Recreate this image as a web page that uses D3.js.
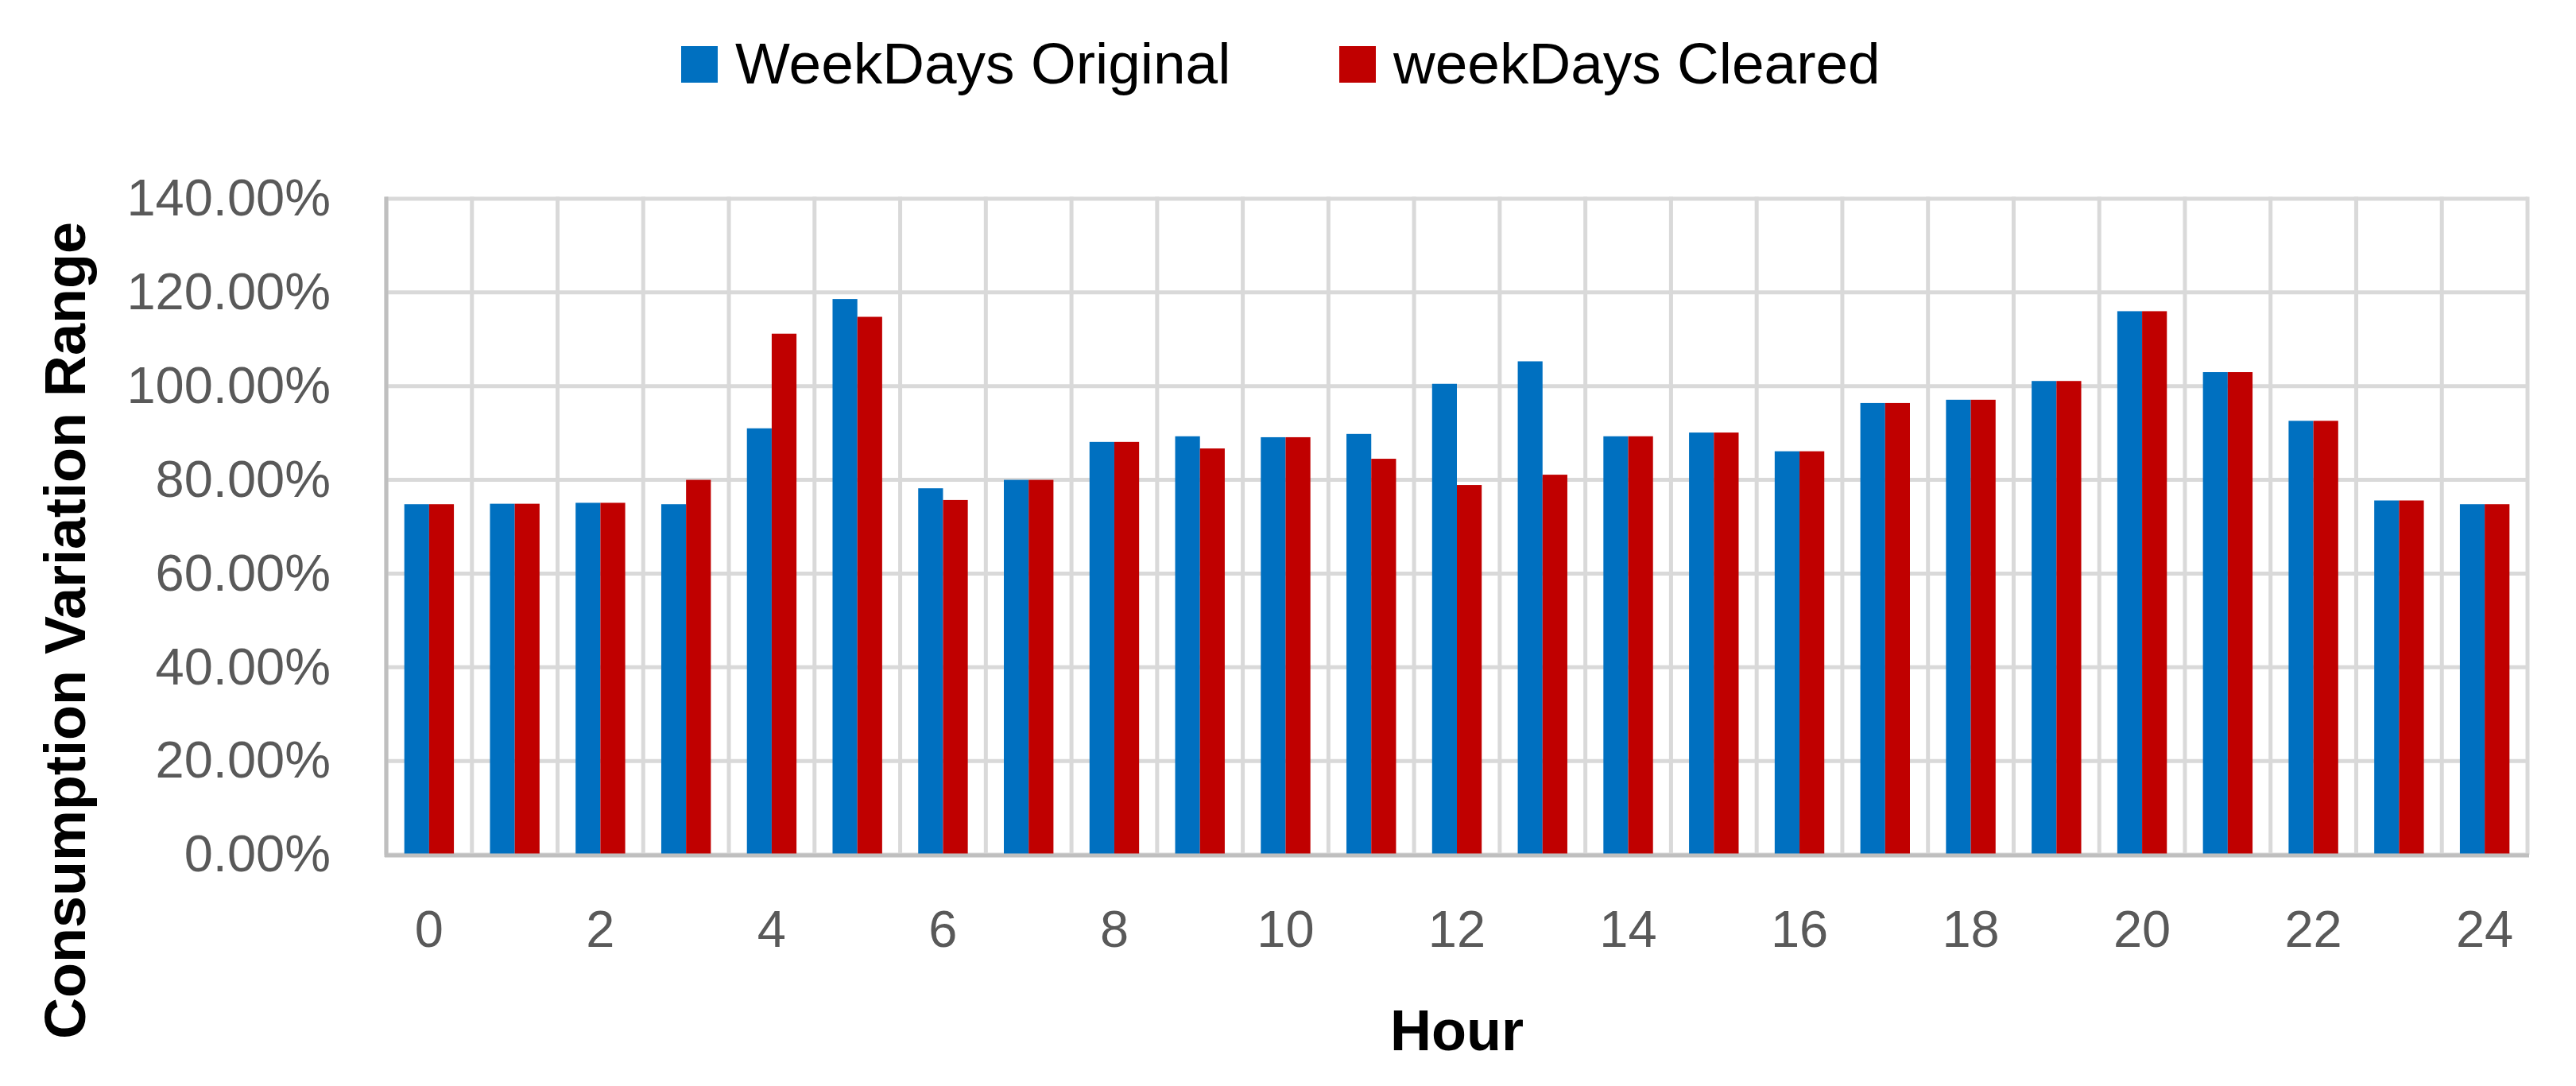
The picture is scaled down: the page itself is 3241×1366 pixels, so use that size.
<!DOCTYPE html>
<html>
<head>
<meta charset="utf-8">
<script src="https://cdn.jsdelivr.net/npm/d3@7"></script>
<style>
  body { margin: 0; background: #fff; }
  text { font-family: "Liberation Sans", Arial, sans-serif; }
</style>
</head>
<body>
<div id="chart"></div>
<script>
// chart values
var hours = [0, 1, 2, 3, 4, 5, 6, 7, 8, 9, 10, 11, 12, 13, 14, 15, 16, 17, 18, 19, 20, 21, 22, 23, 24];
var hourTicks = [0, 2, 4, 6, 8, 10, 12, 14, 16, 18, 20, 22, 24];
var seriesNames = ["WeekDays Original", "weekDays Cleared"];
var original = [74.8, 74.9, 75.1, 74.8, 91.0, 118.6, 78.2, 80.0, 88.1, 89.3, 89.1, 89.8, 100.5,
                105.3, 89.3, 90.1, 86.1, 96.4, 97.1, 101.1, 116.0, 103.0, 92.6, 75.6, 74.8];
var cleared = [74.8, 74.9, 75.1, 80.0, 111.2, 114.8, 75.7, 80.0, 88.1, 86.7, 89.1, 84.5, 78.9,
               81.1, 89.3, 90.1, 86.1, 96.4, 97.1, 101.1, 116.0, 103.0, 92.6, 75.6, 74.8];
var yTicks = [0, 20, 40, 60, 80, 100, 120, 140];

var W = 3241, H = 1366;
var plotLeft = 486, plotRight = 3180, plotTop = 250, plotBottom = 1075;
var colors = ["#0070C0", "#C00000"];

var svg = d3.select("#chart").append("svg")
    .attr("width", W)
    .attr("height", H)
    .style("background", "#fff");

var x0 = d3.scaleBand().domain(hours).range([plotLeft, plotRight]).padding(0);
var x1 = d3.scaleBand().domain(seriesNames).range([0, x0.bandwidth()])
    .paddingInner(0).paddingOuter(0.727);
var y = d3.scaleLinear().domain([0, 140]).range([plotBottom, plotTop]);

// horizontal gridlines
svg.append("g").selectAll("line").data(yTicks).enter()
    .append("line")
    .attr("x1", plotLeft).attr("x2", plotRight)
    .attr("y1", function(d) { return y(d); })
    .attr("y2", function(d) { return y(d); })
    .attr("stroke", "#D9D9D9")
    .attr("stroke-width", 5);

// vertical gridlines between categories
var bounds = hours.map(function(h) { return x0(h); }).concat([plotRight]);
svg.append("g").selectAll("line").data(bounds).enter()
    .append("line")
    .attr("x1", function(d) { return d; })
    .attr("x2", function(d) { return d; })
    .attr("y1", plotTop - 2.5).attr("y2", plotBottom)
    .attr("stroke", "#D9D9D9")
    .attr("stroke-width", 5);

// bars
var rows = hours.map(function(h, i) {
    return { hour: h, vals: [original[i], cleared[i]] };
});
var groups = svg.append("g").selectAll("g").data(rows).enter()
    .append("g")
    .attr("transform", function(d) { return `translate(${x0(d.hour)},0)`; });

groups.selectAll("rect")
    .data(function(d) { return d.vals.map(function(v, k) { return { name: seriesNames[k], v: v, k: k }; }); })
    .enter()
    .append("rect")
    .attr("x", function(d) { return x1(d.name); })
    .attr("y", function(d) { return y(d.v); })
    .attr("width", x1.bandwidth())
    .attr("height", function(d) { return y(0) - y(d.v); })
    .attr("fill", function(d) { return colors[d.k]; });

// axis lines
svg.append("line")
    .attr("x1", plotLeft).attr("x2", plotLeft)
    .attr("y1", plotTop - 2.5).attr("y2", plotBottom + 3)
    .attr("stroke", "#BFBFBF").attr("stroke-width", 5);
svg.append("line")
    .attr("x1", plotLeft - 2).attr("x2", plotRight + 2)
    .attr("y1", plotBottom + 1).attr("y2", plotBottom + 1)
    .attr("stroke", "#BFBFBF").attr("stroke-width", 5);

// y tick labels
var yAxis = svg.append("g")
    .attr("transform", `translate(${plotLeft - 70},0)`)
    .call(d3.axisLeft(y).tickValues(yTicks).tickSize(0).tickPadding(0)
        .tickFormat(function(d) { return d3.format(".2%")(d / 100); }));
yAxis.select(".domain").remove();
yAxis.selectAll("text")
    .attr("fill", "#595959")
    .style("font-size", "65px")
    .style("font-family", "Liberation Sans, Arial, sans-serif");

// x tick labels
var xAxis = svg.append("g")
    .attr("transform", `translate(0,${plotBottom + 70})`)
    .call(d3.axisBottom(x0).tickValues(hourTicks).tickSize(0).tickPadding(0));
xAxis.select(".domain").remove();
xAxis.selectAll("text")
    .attr("fill", "#595959")
    .style("font-size", "65px")
    .style("font-family", "Liberation Sans, Arial, sans-serif");

// axis titles
svg.append("text")
    .attr("x", (plotLeft + plotRight) / 2)
    .attr("y", 1321)
    .style("text-anchor", "middle")
    .style("font-size", "72px")
    .style("font-weight", "bold")
    .attr("fill", "#000")
    .text("Hour");

svg.append("text")
    .attr("transform", "translate(107,793) rotate(-90)")
    .style("text-anchor", "middle")
    .style("font-size", "72px")
    .style("font-weight", "bold")
    .attr("fill", "#000")
    .text("Consumption Variation Range");

// legend
var legendX = [857, 1685];
var legend = svg.append("g").selectAll("g").data(seriesNames).enter()
    .append("g")
    .attr("transform", function(d, i) { return `translate(${legendX[i]},58)`; });
legend.append("rect")
    .attr("width", 46).attr("height", 46)
    .attr("fill", function(d, i) { return colors[i]; });
legend.append("text")
    .attr("x", 68)
    .attr("y", 47)
    .style("font-size", "73px")
    .attr("fill", "#000")
    .text(function(d) { return d; });
</script>
</body>
</html>
